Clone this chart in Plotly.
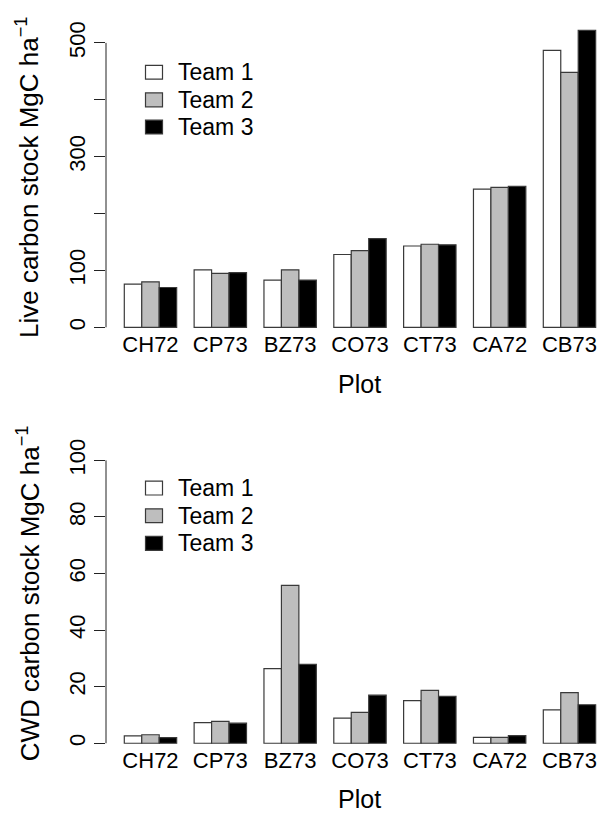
import plotly.graph_objects as go

plots = ["CH72", "CP73", "BZ73", "CO73", "CT73", "CA72", "CB73"]
teams = ["Team 1", "Team 2", "Team 3"]
team_colors = ["#ffffff", "#bebebe", "#000000"]

live_team1 = [76, 101, 83, 128, 143, 243, 487]
live_team2 = [80, 95, 101, 135, 146, 246, 448]
live_team3 = [70, 96, 83, 156, 145, 248, 522]

cwd_team1 = [2.6, 7.3, 26.4, 8.9, 15.1, 2.1, 11.8]
cwd_team2 = [3.0, 7.7, 55.8, 10.9, 18.7, 2.1, 17.9]
cwd_team3 = [2.0, 7.1, 27.9, 17.0, 16.6, 2.7, 13.6]

live_ticks = [0, 100, 300, 500]
live_unlabeled_ticks = [200, 400]
cwd_ticks = [0, 20, 40, 60, 80, 100]

FONT = "Liberation Sans, Arial, sans-serif"
W, H = 597, 816
EDGE = "#3a3a3a"

fig = go.Figure()
live = [live_team1, live_team2, live_team3]
cwd = [cwd_team1, cwd_team2, cwd_team3]
for i in range(3):
    fig.add_trace(go.Bar(x=plots, y=live[i], name=teams[i], xaxis="x", yaxis="y",
                         marker=dict(color=team_colors[i], line=dict(color=EDGE, width=1.2)),
                         showlegend=False))
for i in range(3):
    fig.add_trace(go.Bar(x=plots, y=cwd[i], name=teams[i], xaxis="x2", yaxis="y2",
                         marker=dict(color=team_colors[i], line=dict(color=EDGE, width=1.2)),
                         showlegend=False))

xdom = [106 / W, 1.0]
xr = [-0.637, 6.394]

def ydom(px_bottom, px_top):
    return [(H - px_bottom) / H, (H - px_top) / H]

fig.update_layout(
    width=W, height=H, margin=dict(l=0, r=0, t=0, b=0),
    paper_bgcolor="white", plot_bgcolor="white",
    barmode="group", bargap=0.25, bargroupgap=0,
    font=dict(family=FONT, color="black"),
    xaxis=dict(domain=xdom, range=xr, anchor="y", showline=False, ticks="",
               tickfont=dict(size=22), ticklabelstandoff=-10,
               showgrid=False, zeroline=False),
    yaxis=dict(domain=ydom(333.3, 8.6), range=[-20.9, 542.9], anchor="x",
               tickmode="array", tickvals=live_ticks, ticks="outside", ticklen=11,
               tickcolor="#222", tickwidth=1, tickangle=-90, tickfont=dict(size=22),
               minor=dict(tickmode="array", tickvals=live_unlabeled_ticks, ticks="outside",
                          ticklen=11, tickcolor="#222", tickwidth=1, showgrid=False),
               showline=False, showgrid=False, zeroline=False),
    xaxis2=dict(domain=xdom, range=xr, anchor="y2", showline=False, ticks="",
                tickfont=dict(size=22), ticklabelstandoff=-10,
                showgrid=False, zeroline=False),
    yaxis2=dict(domain=ydom(753.8, 444.5), range=[-4, 104], anchor="x2",
                tickmode="array", tickvals=cwd_ticks, ticks="outside", ticklen=11,
                tickcolor="#222", tickwidth=1, tickangle=-90, tickfont=dict(size=22),
                showline=False, showgrid=False, zeroline=False),
    showlegend=False,
)

# R-style y axis lines spanning first to last tick
fig.add_shape(type="line", xref="x domain", yref="y", x0=0, x1=0,
              y0=live_ticks[0], y1=live_ticks[-1], line=dict(color="#222", width=1))
fig.add_shape(type="line", xref="x2 domain", yref="y2", x0=0, x1=0,
              y0=cwd_ticks[0], y1=cwd_ticks[-1], line=dict(color="#222", width=1))

# legends (R-style fill boxes with labels)
legend_top_rows = [63, 91, 118.5]
legend_bottom_rows = [484, 512, 540]
BOX_W, BOX_H = 17, 14
BOX_CX, TEXT_X = 154, 176
for rows in (legend_top_rows, legend_bottom_rows):
    for i, yc in enumerate(rows):
        fig.add_shape(type="rect", xref="paper", yref="paper",
                      x0=(BOX_CX - BOX_W / 2) / W, x1=(BOX_CX + BOX_W / 2) / W,
                      y0=(H - yc - BOX_H / 2) / H, y1=(H - yc + BOX_H / 2) / H,
                      fillcolor=team_colors[i], line=dict(color=EDGE, width=1.2))
        fig.add_annotation(text=teams[i], xref="paper", yref="paper",
                           x=TEXT_X / W, y=(H - yc) / H, xanchor="left", yanchor="middle",
                           showarrow=False, font=dict(size=23))

# axis titles
fig.add_annotation(text="Live carbon stock MgC ha<sup>\u22121</sup>", textangle=-90,
                   xref="paper", yref="paper", x=28 / W, y=(H - 170) / H,
                   xanchor="center", yanchor="middle", showarrow=False, font=dict(size=26))
fig.add_annotation(text="CWD carbon stock MgC ha<sup>\u22121</sup>", textangle=-90,
                   xref="paper", yref="paper", x=28 / W, y=(H - 590.5) / H,
                   xanchor="center", yanchor="middle", showarrow=False, font=dict(size=26))
fig.add_annotation(text="Plot", xref="paper", yref="paper", x=359 / W, y=(H - 379) / H,
                   xanchor="center", yanchor="middle", showarrow=False, font=dict(size=25))
fig.add_annotation(text="Plot", xref="paper", yref="paper", x=359 / W, y=(H - 799) / H,
                   xanchor="center", yanchor="middle", showarrow=False, font=dict(size=25))

fig.write_html("out.html")
